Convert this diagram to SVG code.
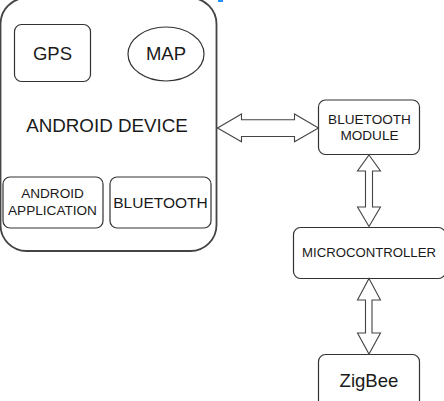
<svg xmlns="http://www.w3.org/2000/svg" width="444" height="401" viewBox="0 0 444 401">
<style>
.box{fill:#fff;stroke:#333;stroke-width:1.2}
.big{fill:#fff;stroke:#444;stroke-width:1.8}
.arr{fill:#fff;stroke:#444;stroke-width:1.1;stroke-linejoin:miter}
text{font-family:"Liberation Sans",Arial,sans-serif;fill:#1a1a1a;text-anchor:middle}
</style>
<rect width="444" height="401" fill="#fff"/>
<rect x="218" y="0" width="5" height="2" fill="#1e90ff"/>
<g id="android-device">
<rect class="big" x="0.5" y="-2" width="216" height="253" rx="26" ry="26"/>
<text x="107" y="131.5" font-size="18.8">ANDROID DEVICE</text>
</g>
<g id="gps">
<rect class="box" x="14.5" y="24.5" width="76" height="57" rx="7"/>
<text x="52.5" y="59.5" font-size="18.5">GPS</text>
</g>
<g id="map">
<ellipse class="box" cx="166" cy="54" rx="38" ry="27"/>
<text x="166" y="59.5" font-size="18.5">MAP</text>
</g>
<g id="android-application">
<rect class="box" x="3" y="177" width="100" height="51" rx="7"/>
<text x="52.5" y="197.5" font-size="13.6">ANDROID</text>
<text x="52.5" y="214.5" font-size="13.6">APPLICATION</text>
</g>
<g id="bluetooth">
<rect class="box" x="110" y="177" width="101" height="51" rx="7"/>
<text x="160.5" y="207.5" font-size="15.5">BLUETOOTH</text>
</g>
<g id="bluetooth-module">
<rect class="box" x="318.5" y="100" width="101" height="54.5" rx="7"/>
<text x="369.5" y="124" font-size="13.6">BLUETOOTH</text>
<text x="369.5" y="140" font-size="13.6">MODULE</text>
</g>
<g id="microcontroller">
<rect class="box" x="293.5" y="227.5" width="152" height="51" rx="7"/>
<text x="369" y="257" font-size="12.8" textLength="134" lengthAdjust="spacingAndGlyphs">MICROCONTROLLER</text>
</g>
<g id="zigbee">
<rect class="box" x="318.5" y="354.5" width="101" height="60" rx="7"/>
<text x="369" y="386.5" font-size="18.6">ZigBee</text>
</g>
<g id="connectors">
<polygon class="arr" points="217.5,128 241.5,114 241.5,119.7 294.5,119.7 294.5,114 318.5,128 294.5,141.8 294.5,136.5 241.5,136.5 241.5,141.8"/>
<polygon class="arr" points="369,155 380.5,171 372.5,171 372.5,207 380.5,207 369,226.5 357.5,207 365.5,207 365.5,171 357.5,171"/>
<polygon class="arr" points="369,278.5 380.5,300 372,300 372,333 380.5,333 369,354 357.5,333 365.5,333 365.5,300 357.5,300"/>
</g>
</svg>
